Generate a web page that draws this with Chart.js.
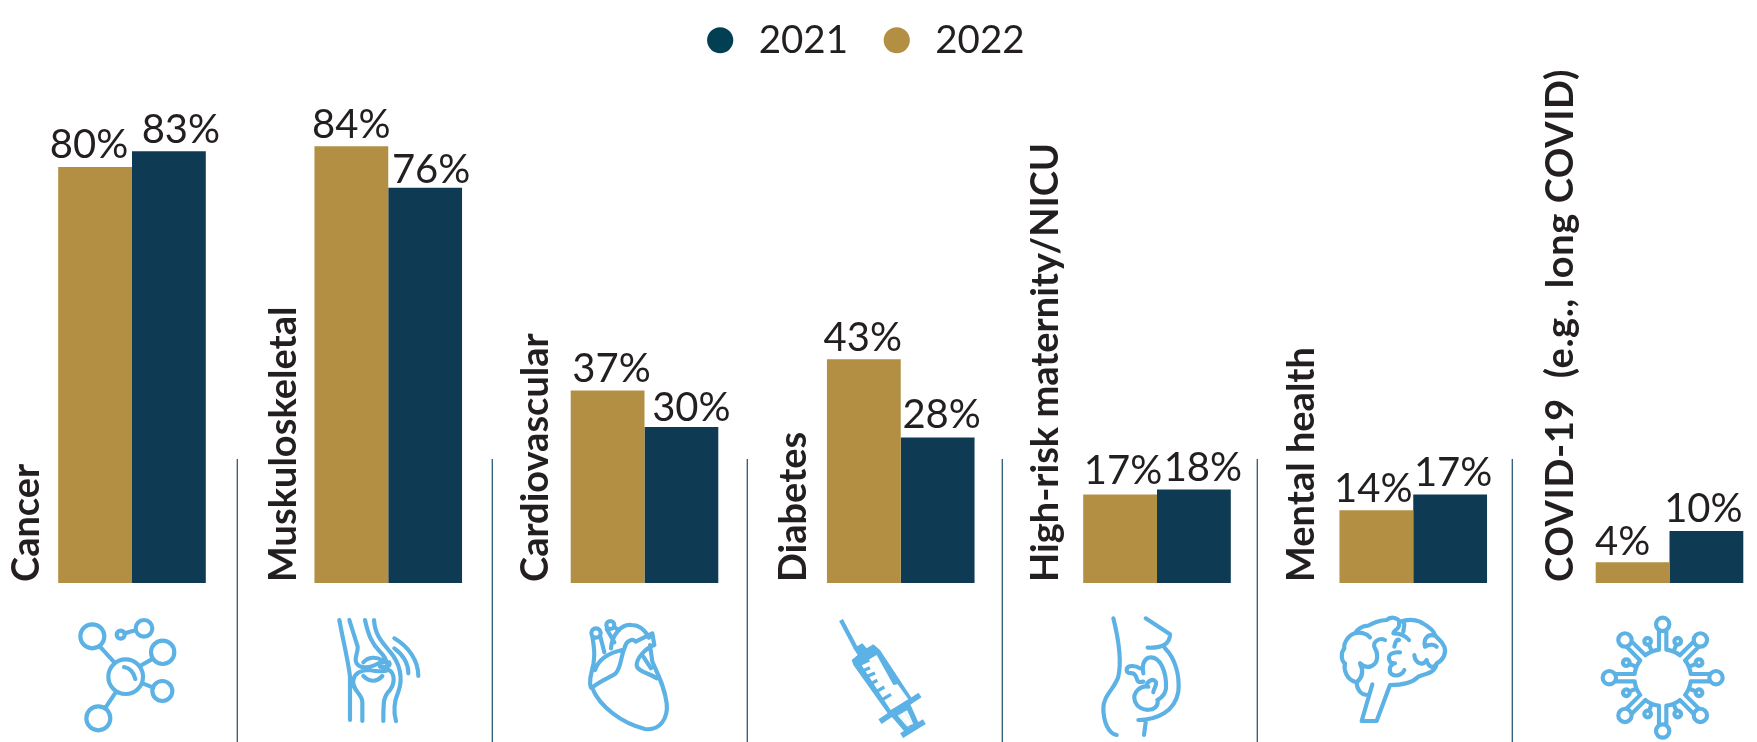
<!DOCTYPE html>
<html>
<head>
<meta charset="utf-8">
<style>
  html, body { margin: 0; background: #fff; overflow: hidden; }
  canvas { display: block; }
</style>
<script src="https://cdn.jsdelivr.net/npm/chart.js@4"></script>
</head>
<body>
<canvas id="myChart" width="1757" height="742"></canvas>
<script>
const CATEGORIES = ["Cancer", "Muskuloskeletal", "Cardiovascular", "Diabetes", "High-risk maternity/NICU", "Mental health", "COVID-19  (e.g., long COVID)"];
const VALUES_2022 = [80, 84, 37, 43, 17, 14, 4];
const VALUES_2021 = [83, 76, 30, 28, 18, 17, 10];

const GOLD = "#B28F42";
const NAVY = "#0F3A53";
const LEGEND_NAVY = "#023F52";
const INK = "#231F20";
const ICON_BLUE = "#5CB2E4";
const FONT = "Lato, sans-serif";

// Hand placed value labels: [dx, dy] from the top centre of each bar.
const NUDGE_2022 = [[-6, 0], [0, 0], [4, 0], [-1, 0], [3, -2], [-3, 0], [-10, 1]];
const NUDGE_2021 = [[12, 0], [6, 4], [10, 3], [4, -1], [9, 0], [3, 0], [-3, 0]];
// Baseline of each rotated category name, relative to the category centre.
const NAME_OFFSET = [-93, -92, -97, -95, -99, -99.5, -96.5];

const circle = (x, y, r) => `M${x - r} ${y}a${r} ${r} 0 1 0 ${2 * r} 0a${r} ${r} 0 1 0 ${-2 * r} 0`;

// Icons are traced on a 3x grid, [left, top] is the page position of that grid.
const ICONS = [
  { at: [60, 605], stroke: [
    circle(97, 94, 36), circle(252, 70, 25), circle(182, 89, 12), circle(308, 142, 35),
    circle(307, 258, 30), circle(115, 340, 36), circle(197, 215, 52),
    "M195 85L228 75M120 125L163 172M240 183L275 163M248 235L280 248M135 310L165 265",
    "M192 186Q218 190 226 222"
  ].join("") },
  { at: [325, 605], stroke: [
    "M43 45C55 110 70 170 75 215L75 345",
    "M73 45L98 125C100 145 85 160 95 175C105 190 130 190 150 180C165 172 178 168 192 172C198 180 190 190 165 185",
    "M120 45C130 90 140 115 165 140C180 155 185 165 185 175",
    "M112 348L112 290C110 265 80 255 85 225C90 200 115 195 135 195C155 200 175 200 192 195C210 205 210 235 195 255C175 275 175 290 175 348",
    "M147 45C150 90 170 110 195 140C225 175 235 220 220 260C205 295 205 320 213 348",
    "M115 172C130 155 155 155 170 165M115 213C135 232 155 232 172 213",
    "M208 100C250 125 280 165 280 213M208 130C235 150 250 175 250 205"
  ].join("") },
  { at: [575, 605], stroke: [
    circle(63, 84, 14), circle(106, 60, 12),
    "M52 95C60 140 60 165 50 200C42 230 45 250 52 250C75 305 140 355 210 372C255 378 280 340 275 295C270 250 250 210 232 170L225 120",
    "M76 95L88 142",
    "M95 72L118 112M117 66L132 76",
    "M108 130C110 90 140 55 170 60C195 60 210 75 222 98",
    "M55 245C80 225 110 215 122 205C140 185 135 160 150 125C155 105 175 100 182 110L232 85L238 120C210 130 185 160 185 180C185 200 225 205 245 220",
    "M60 195C70 165 95 145 142 135M205 155L228 190"
  ].join("") },
  { at: [825, 605], fill: [
    "M80 165L98 150L85 130L112 115L125 130L145 118L165 135L262 282L190 328L85 180Z",
    "M108 178L155 150L205 240L218 238L250 283L197 315Z"
  ].join(""), lines: [
    ["M48 45L92 128", 13], ["M165 350L285 270", 17], ["M230 392L298 350", 17],
    ["M105 178L133 165M112 198L135 188M122 216L150 204M135 238L157 226M150 262L178 246M168 286L198 268", 10],
    ["M206 330L250 304L275 360L245 375Z", 16], ["M222 325L252 368M236 318L264 360", 1.5, "#BFE0F5"]
  ] },
  { at: [1085, 605], stroke: [
    "M85 40C100 100 110 170 100 215C90 250 55 270 55 310C55 350 70 385 95 390",
    "M182 40L255 88C255 115 235 130 188 128",
    "M240 130C270 160 285 210 280 260C270 320 215 345 160 345M183 345L177 390",
    "M175 205C170 185 175 165 190 158C225 150 245 200 243 250C240 275 225 280 217 285",
    "M218 290C220 320 165 325 150 290C140 260 170 240 190 245",
    "M185 240C190 225 205 220 212 230C218 240 205 250 205 262",
    "M165 190C150 180 125 180 125 195C125 210 145 200 150 210C160 220 150 235 175 230"
  ].join("") },
  { at: [1335, 605], stroke: [
    "M112 238L80 348L125 348L165 240C200 240 230 235 250 215C275 205 300 205 305 175C325 165 335 145 328 125C320 105 305 100 300 90C295 70 270 60 255 50C230 40 210 45 195 50C185 35 165 35 155 45C135 45 110 55 100 62C80 62 65 75 60 85C40 90 25 115 28 130C15 145 20 170 30 175C25 195 35 225 65 232C65 250 75 270 100 270",
    "M60 85C75 80 95 85 105 97",
    "M150 105C130 95 110 115 120 130C130 145 130 175 110 183C95 190 85 185 75 175C85 195 85 215 65 232",
    "M192 55C197 72 175 75 175 85C195 85 210 90 222 105M192 105C185 100 180 115 178 125M205 50C212 60 205 70 205 80",
    "M195 142C170 140 155 150 165 170C170 175 180 175 180 175C160 180 160 205 175 210C190 215 205 205 208 195",
    "M270 125C265 105 275 85 300 92M270 125C285 115 300 120 305 125",
    "M238 150C240 175 265 185 275 165C280 185 295 195 305 175"
  ].join("") },
  { at: [1590, 605], virus: [218, 218] }
];

function virusPath(cx, cy) {
  const spoke = new Path2D(circle(0, -160, 20) + "M-11 -142L-11 -84M11 -142L11 -84M11 -84.3A85 85 0 0 1 51.9 -67.3");
  const stub = new Path2D(circle(0, -118, 10) + "M0 -108L0 -85");
  const path = new Path2D();
  for (let i = 0; i < 8; i++) {
    path.addPath(spoke, new DOMMatrix().translate(cx, cy).rotate(45 * i));
    path.addPath(stub, new DOMMatrix().translate(cx, cy).rotate(45 * i + 22.5));
  }
  return path;
}

function drawIcon(ctx, icon) {
  ctx.save();
  ctx.translate(icon.at[0], icon.at[1]);
  ctx.scale(1 / 3, 1 / 3);
  ctx.strokeStyle = ICON_BLUE;
  ctx.fillStyle = ICON_BLUE;
  ctx.lineWidth = 12.5;
  ctx.lineCap = "round";
  ctx.lineJoin = "round";
  if (icon.stroke) ctx.stroke(new Path2D(icon.stroke));
  if (icon.virus) ctx.stroke(virusPath(icon.virus[0], icon.virus[1]));
  if (icon.fill) ctx.fill(new Path2D(icon.fill), "evenodd");
  if (icon.lines) {
    ctx.lineCap = "butt";
    icon.lines.forEach(([d, width, color]) => {
      ctx.lineWidth = width;
      ctx.strokeStyle = color || ICON_BLUE;
      ctx.stroke(new Path2D(d));
    });
  }
  ctx.restore();
}

const panelDecor = {
  id: "panelDecor",
  // The legend sits left of the plot's own centre.
  afterLayout(chart) {
    chart.legend.left -= 38;
    chart.legend.right -= 38;
    chart.legend.top -= 8.5;
  },
  afterDatasetsDraw(chart) {
    const { ctx, scales } = chart;
    const baseline = scales.y.getPixelForValue(0);

    // Separators between the panels
    ctx.save();
    ctx.strokeStyle = "#2B5A75";
    ctx.lineWidth = 1.3;
    for (let i = 0; i < CATEGORIES.length - 1; i++) {
      const x = 237.3 + 255 * i;
      ctx.beginPath();
      ctx.moveTo(x, 459);
      ctx.lineTo(x, 742);
      ctx.stroke();
    }
    ctx.restore();

    ICONS.forEach(icon => drawIcon(ctx, icon));

    // Category names read upwards from the baseline
    ctx.save();
    ctx.font = "700 38px " + FONT;
    ctx.fillStyle = INK;
    ctx.textAlign = "left";
    ctx.textBaseline = "alphabetic";
    CATEGORIES.forEach((name, i) => {
      ctx.save();
      ctx.translate(scales.x.getPixelForTick(i) + NAME_OFFSET[i], baseline - 1);
      ctx.rotate(-Math.PI / 2);
      // The long last name is set a little wider
      ctx.letterSpacing = i === CATEGORIES.length - 1 ? "0.6px" : "0px";
      ctx.fillText(name, 0, 0);
      ctx.restore();
    });
    ctx.restore();

    // Value labels
    ctx.save();
    ctx.font = "400 40px " + FONT;
    ctx.fillStyle = INK;
    ctx.textAlign = "center";
    ctx.textBaseline = "alphabetic";
    [NUDGE_2022, NUDGE_2021].forEach((nudges, d) => {
      chart.getDatasetMeta(d).data.forEach((bar, i) => {
        const value = chart.data.datasets[d].data[i];
        ctx.fillText(value + "%", bar.x + nudges[i][0], bar.y - 8.5 + nudges[i][1]);
      });
    });
    ctx.restore();
  }
};

const data = {
  labels: CATEGORIES,
  datasets: [
    { label: "2022", data: VALUES_2022, backgroundColor: GOLD, clip: false },
    { label: "2021", data: VALUES_2021, backgroundColor: NAVY, clip: false }
  ]
};

const config = {
  type: "bar",
  data: data,
  plugins: [panelDecor],
  options: {
    responsive: false,
    animation: false,
    devicePixelRatio: 1,
    layout: { padding: { left: 132, right: 87.5, top: 0, bottom: 159 } },
    categoryPercentage: 0.576,
    barPercentage: 1,
    scales: {
      // Ticks span centre to centre so the last group can run to the page edge.
      x: { display: false, offset: false, grid: { display: false } },
      y: { display: false, min: 0, max: 97.1, grid: { display: false } }
    },
    plugins: {
      tooltip: { enabled: false },
      legend: {
        position: "top",
        reverse: true,
        labels: {
          usePointStyle: true,
          pointStyle: "circle",
          boxHeight: 18.5,
          padding: 29.5,
          color: INK,
          font: { family: FONT, size: 38.5 },
          generateLabels(chart) {
            const items = Chart.defaults.plugins.legend.labels.generateLabels(chart);
            items.forEach(item => {
              if (item.text === "2021") item.fillStyle = LEGEND_NAVY;
              item.lineWidth = 0;
              item.strokeStyle = "transparent";
            });
            return items;
          }
        }
      }
    }
  }
};

const myChart = new Chart(document.getElementById("myChart"), config);
</script>
</body>
</html>
